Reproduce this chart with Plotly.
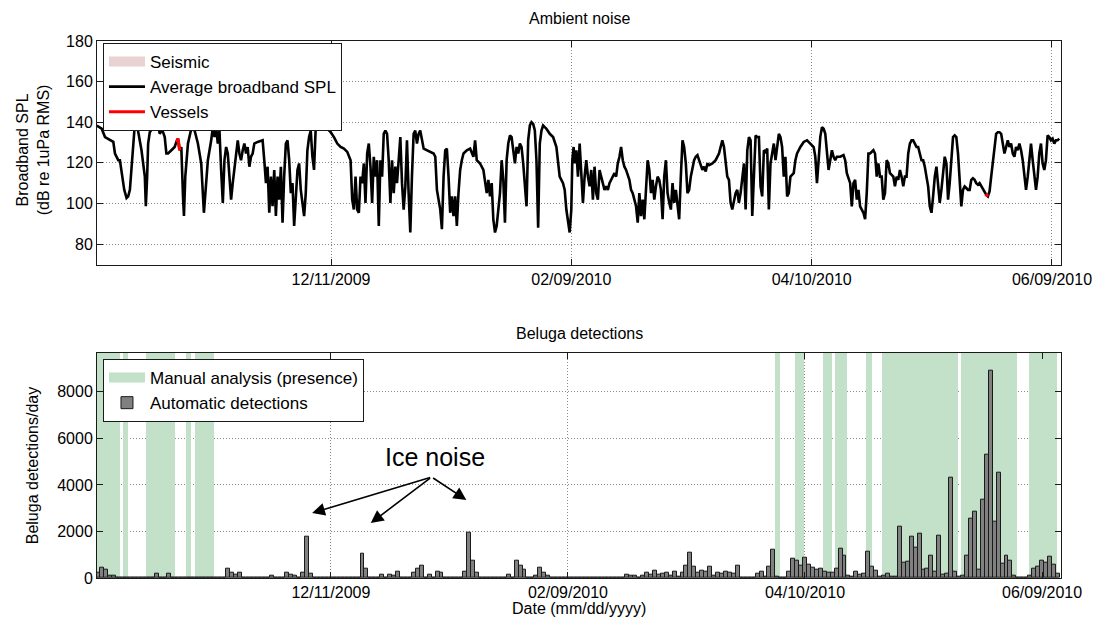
import pandas as pd
import plotly.graph_objects as go

# ---------------------------------------------------------------- data
START = pd.Timestamp("2009-10-13")

# Average broadband SPL: (days since START, dB re 1uPa RMS)
spl_readings = [
    (0.49, 138.4), (1.74, 136.8), (2.57, 132.7), (3.81, 131.1), (4.64, 130.3), (5.05, 124.6),
    (5.88, 121.3), (6.29, 121.3), (6.71, 114.9), (7.37, 106.7), (7.95, 102.7), (8.36, 103.5),
    (8.78, 106.7), (9.19, 116.5), (9.61, 129.5), (10.02, 139.2), (10.44, 140.0), (10.85, 135.9),
    (11.68, 126.2), (12.51, 113.2), (12.76, 98.6), (13.09, 113.2), (13.34, 129.5), (13.75, 135.1),
    (14.58, 137.6), (15.41, 139.2), (15.82, 138.4), (16.24, 134.3), (16.65, 135.9), (17.06, 135.1),
    (17.48, 132.7), (17.89, 124.6), (18.31, 124.6), (19.14, 126.2), (19.96, 127.8), (20.38, 130.3),
    (20.79, 131.9), (21.21, 126.2), (21.62, 127.8), (22.04, 103.5), (22.28, 93.8), (22.61, 113.2),
    (23.28, 129.5), (24.11, 136.8), (24.94, 135.9), (25.76, 129.5), (26.59, 119.7), (27.26, 95.4),
    (27.84, 108.4), (28.25, 121.3), (29.08, 131.1), (29.49, 137.6), (29.91, 132.7), (30.32, 137.6),
    (30.73, 129.5), (31.15, 135.9), (31.56, 116.5), (31.98, 100.3), (32.39, 121.3), (32.81, 127.8),
    (33.22, 124.6), (33.63, 113.2), (34.05, 101.9), (34.46, 110.0), (34.88, 116.5), (35.29, 124.6),
    (35.71, 131.1), (36.12, 124.6), (36.53, 121.3), (36.95, 126.2), (37.36, 129.5), (37.78, 124.6),
    (38.19, 127.8), (38.61, 118.1), (39.02, 123.0), (39.43, 124.6), (39.85, 129.5), (40.68, 130.3),
    (41.50, 131.1), (41.92, 131.1), (42.33, 121.3), (42.75, 110.0), (43.16, 118.1), (43.58, 95.4),
    (43.99, 113.2), (44.40, 98.6), (44.82, 116.5), (45.23, 93.8), (45.65, 113.2), (46.06, 101.9),
    (46.48, 118.1), (46.89, 90.5), (47.30, 113.2), (47.72, 129.5), (48.13, 131.1), (48.55, 121.3),
    (48.96, 105.1), (49.38, 110.0), (49.79, 88.9), (50.20, 105.1), (50.62, 116.5), (51.03, 119.7),
    (51.45, 106.7), (51.86, 100.3), (52.28, 93.8), (52.69, 105.1), (53.10, 126.2), (53.52, 132.7),
    (53.93, 135.9), (54.35, 123.0), (54.76, 116.5), (55.18, 137.6), (55.59, 139.2), (56.00, 137.6),
    (56.42, 136.8), (57.25, 138.4), (58.07, 136.8), (58.90, 135.1), (59.73, 132.7), (60.56, 129.5),
    (61.39, 127.8), (62.22, 127.0), (63.05, 125.4), (63.88, 121.3), (64.29, 101.9), (64.70, 97.0),
    (65.12, 113.2), (65.53, 97.0), (65.95, 95.4), (66.36, 113.2), (66.77, 110.0), (67.19, 119.7),
    (67.60, 100.3), (68.02, 124.6), (68.43, 129.5), (68.85, 118.1), (69.26, 100.3), (69.67, 123.0),
    (70.09, 113.2), (70.50, 121.3), (70.92, 88.9), (71.33, 121.3), (71.75, 113.2), (72.16, 134.3),
    (72.57, 135.9), (72.99, 134.3), (73.40, 121.3), (73.82, 100.3), (74.23, 121.3), (74.65, 105.1),
    (75.06, 118.1), (75.47, 110.0), (75.89, 121.3), (76.30, 132.7), (76.72, 110.0), (77.13, 97.0),
    (77.55, 108.4), (77.96, 131.1), (78.37, 105.1), (78.79, 85.7), (79.20, 113.2), (79.62, 134.3),
    (80.03, 135.9), (80.45, 129.5), (80.86, 134.3), (81.27, 135.9),
    (82.13, 127.0), (82.95, 126.2), (83.78, 125.4), (84.61, 124.6), (85.03, 123.0), (85.44, 106.7),
    (85.85, 101.9), (86.27, 97.0), (86.68, 87.3), (87.10, 113.2), (87.51, 126.2), (87.92, 127.0),
    (88.34, 113.2), (88.75, 95.4), (89.17, 103.5), (89.58, 93.8), (90.00, 103.5), (90.41, 88.9),
    (90.82, 105.1), (91.24, 116.5), (91.65, 121.3), (92.07, 124.6), (92.90, 126.2), (93.72, 127.0),
    (94.55, 123.0), (94.97, 131.1), (95.38, 121.3), (96.21, 119.7), (97.04, 116.5), (97.45, 110.0),
    (97.87, 105.1), (98.28, 111.6), (98.70, 103.5), (99.11, 110.0), (99.52, 92.2), (99.94, 85.7),
    (100.35, 88.9), (100.77, 97.0), (101.18, 105.1), (101.60, 121.3), (102.01, 111.6), (102.42, 90.5),
    (102.84, 121.3), (103.25, 129.5), (103.67, 133.5), (104.08, 132.7), (104.50, 124.6), (104.91, 119.7),
    (105.32, 127.8), (105.74, 124.6), (106.15, 129.5), (106.57, 127.8), (106.98, 119.7), (107.40, 108.4),
    (107.81, 98.6), (108.22, 131.1), (108.64, 138.4), (109.05, 140.0), (109.47, 139.2), (109.88, 135.9),
    (110.29, 121.3), (110.71, 88.1), (110.96, 113.2), (111.12, 129.5), (111.54, 135.9), (111.95, 138.4),
    (112.37, 137.6), (112.78, 136.8), (113.61, 134.3), (114.44, 132.7), (115.27, 127.8), (115.68, 121.3),
    (116.09, 113.2), (116.92, 110.0), (117.34, 106.7), (117.75, 97.0), (118.17, 90.5), (118.58, 85.7),
    (118.99, 97.0), (119.24, 121.3), (119.57, 127.8), (119.82, 119.7), (120.24, 126.2), (120.65, 113.2),
    (121.07, 129.5), (121.48, 113.2), (121.89, 100.3), (122.31, 113.2), (122.72, 121.3), (123.14, 113.2),
    (123.55, 108.4), (123.97, 116.5), (124.38, 101.9), (124.79, 118.1), (125.21, 105.1), (125.62, 101.9),
    (126.04, 116.5), (126.45, 113.2), (126.86, 110.0), (127.28, 106.7), (127.69, 108.4), (128.11, 106.7),
    (128.52, 110.0), (129.35, 113.2), (129.77, 114.9), (130.18, 113.2), (130.59, 119.7), (131.01, 123.0),
    (131.42, 127.8), (131.84, 121.3), (132.25, 118.1), (132.66, 116.5), (133.49, 111.6), (133.91, 106.7),
    (134.32, 105.1), (134.74, 101.9), (135.15, 98.6), (135.57, 90.5), (135.98, 105.1), (136.39, 93.8),
    (136.81, 101.9), (137.22, 92.2), (137.64, 106.7), (138.05, 121.3), (138.46, 116.5), (138.88, 105.1),
    (139.29, 111.6), (139.71, 101.9), (140.12, 108.4), (140.54, 113.2), (140.95, 111.6), (141.36, 106.7),
    (141.78, 92.2), (142.19, 113.2), (142.61, 121.3), (143.02, 105.1), (143.44, 100.3), (143.85, 97.0),
    (144.26, 110.0), (144.68, 100.3), (145.09, 106.7), (145.51, 100.3), (145.92, 92.2), (146.33, 113.2),
    (146.75, 131.1), (147.16, 127.8), (147.58, 119.7), (147.99, 105.1), (148.41, 106.7), (148.82, 113.2),
    (149.23, 116.5), (149.65, 121.3), (150.06, 123.0), (150.48, 123.8), (150.89, 121.3), (151.72, 116.5),
    (152.14, 118.1), (152.55, 115.7), (152.96, 119.7), (153.38, 118.9), (154.21, 119.7), (155.03, 121.3),
    (155.86, 124.6), (156.69, 131.1), (157.11, 127.8), (157.52, 121.3), (157.93, 113.2), (158.35, 111.6),
    (158.76, 100.3), (159.18, 97.0), (159.59, 101.9), (160.01, 105.1), (160.42, 106.7), (160.83, 100.3),
    (161.25, 105.1),
    (162.10, 119.7), (162.51, 97.0), (162.93, 126.2), (163.34, 132.7), (163.75, 131.1), (164.17, 93.8),
    (164.58, 113.2), (165.00, 133.5), (165.41, 132.7), (165.83, 132.7), (166.24, 108.4), (166.65, 103.5),
    (167.07, 126.2), (167.48, 125.4), (167.90, 127.0), (168.31, 97.0), (168.72, 119.7), (169.14, 124.6),
    (169.55, 129.5), (169.97, 121.3), (170.38, 127.8), (170.80, 134.3), (171.21, 132.7), (171.62, 127.8),
    (172.04, 113.2), (172.45, 123.0), (172.87, 103.5), (173.28, 105.1), (173.70, 113.2), (174.52, 114.9),
    (174.94, 121.3), (175.35, 124.6), (176.18, 127.8), (177.01, 130.3), (177.84, 131.1), (178.67, 129.5),
    (179.50, 127.8), (179.91, 123.0), (180.32, 110.0), (180.74, 121.3), (181.15, 132.7), (181.57, 137.6),
    (181.98, 136.8), (182.40, 134.3), (182.81, 126.2), (183.22, 116.5), (183.64, 121.3), (184.05, 126.2),
    (184.47, 123.0), (184.88, 121.3), (185.29, 123.0), (186.12, 123.0), (186.95, 123.8), (187.37, 121.3),
    (187.78, 114.9), (188.61, 110.0), (189.02, 98.6), (189.44, 110.0), (189.85, 111.6), (190.27, 101.9),
    (190.68, 106.7), (191.09, 98.6), (191.51, 97.0), (191.92, 95.4), (192.34, 92.2), (192.75, 105.1),
    (193.17, 124.6), (193.58, 124.6), (194.41, 126.2), (194.82, 124.6), (195.24, 113.2), (195.65, 119.7),
    (196.07, 113.2), (196.48, 113.2), (196.89, 101.9), (197.31, 105.1), (197.72, 121.3), (198.14, 119.7),
    (198.55, 114.9), (199.38, 113.2), (199.79, 108.4), (200.21, 113.2), (200.62, 111.6), (201.04, 116.5),
    (201.45, 113.2), (201.87, 108.4), (202.28, 113.2), (202.69, 113.2), (203.11, 124.6), (203.52, 129.5),
    (203.94, 131.1), (204.35, 131.1), (204.76, 129.5), (205.18, 127.8), (205.59, 127.8), (206.01, 124.6),
    (206.42, 121.3), (206.84, 121.3), (207.25, 118.1), (207.66, 113.2), (208.08, 108.4), (208.49, 98.6),
    (208.91, 95.4), (209.32, 103.5), (209.74, 113.2), (210.15, 118.1), (210.56, 110.0), (210.98, 100.3),
    (211.39, 106.7), (211.81, 116.5), (212.22, 123.0), (212.64, 119.7), (213.05, 101.9), (213.46, 110.0),
    (213.88, 124.6), (214.29, 132.7), (214.71, 133.5), (215.12, 132.7), (215.54, 124.6), (215.95, 108.4),
    (216.36, 98.6), (216.78, 106.7), (217.19, 108.4), (217.61, 107.6), (218.02, 106.7), (218.44, 106.7),
    (218.85, 111.6), (219.26, 112.4), (219.68, 111.6), (220.09, 110.0), (220.51, 109.2), (220.92, 110.0),
    (221.34, 108.4), (221.75, 106.7), (222.16, 105.1), (222.58, 104.3), (222.99, 103.5), (223.41, 105.9),
    (223.82, 113.2), (224.23, 121.3), (224.65, 129.5), (225.06, 134.3), (225.48, 135.1), (225.89, 135.1),
    (226.31, 134.3), (226.72, 129.5), (227.13, 124.6), (227.55, 127.8), (227.96, 131.1), (228.38, 127.8),
    (228.79, 129.5), (229.21, 124.6), (229.62, 123.0), (230.03, 127.8), (230.45, 126.2), (230.86, 129.5),
    (231.28, 126.2), (231.69, 121.3), (232.11, 113.2), (232.52, 106.7), (232.94, 113.2), (233.35, 123.0),
    (233.76, 129.5), (234.18, 121.3), (234.59, 113.2), (235.01, 106.7), (235.42, 113.2), (235.83, 124.6),
    (236.25, 129.5), (236.66, 119.7), (237.08, 116.5), (237.49, 121.3), (237.91, 133.5), (238.32, 132.7),
    (238.74, 131.1), (239.15, 131.9), (239.57, 129.5), (239.98, 131.1), (240.40, 131.1), (240.81, 131.9),
]

# Vessel passages picked out of the SPL record (days since START, dB)
vessel_days = [20.38, 20.79, 21.21, None, 222.35, 222.75, 223.10]
vessel_db = [130.3, 131.9, 126.2, None, 104.5, 103.8, 103.6]

# Daily automatic beluga detections, one value per day from START
detections = [
    250, 430, 360, 115, 100, 0, 0, 0, 0, 0, 0, 0, 20, 30, 30, 200, 0, 30, 180, 0,
    0, 0, 0, 0, 0, 30, 0, 0, 0, 0, 0, 0, 0, 420, 210, 140, 240, 20, 0, 0,
    0, 30, 0, 0, 110, 0, 0, 20, 240, 150, 110, 20, 240, 1780, 180, 0, 0, 30, 30, 30,
    20, 0, 0, 0, 0, 0, 0, 1050, 420, 20, 0, 0, 140, 0, 140, 110, 270, 0, 0, 20,
    210, 390, 520, 30, 125, 20, 270, 225, 20, 30, 30, 30, 20, 270, 1930, 740, 225, 20, 10, 10,
    10, 20, 20, 30, 140, 30, 740, 530, 350, 30, 20, 110, 460, 225, 85, 20, 10, 10, 10, 0,
    0, 0, 0, 0, 10, 20, 30, 0, 0, 0, 0, 10, 10, 10, 125, 100, 100, 20, 100, 210,
    140, 320, 140, 170, 210, 100, 270, 70, 250, 530, 1080, 490, 210, 295, 270, 490, 100, 225, 180, 270,
    225, 180, 530, 0, 0, 0, 0, 200, 260, 60, 500, 1220, 60, 10, 10, 270, 850, 750, 520, 880,
    560, 460, 345, 390, 270, 215, 245, 420, 1250, 960, 100, 40, 270, 130, 200, 1140, 500, 320, 60, 100,
    170, 60, 60, 2190, 650, 720, 1760, 1320, 1900, 345, 390, 960, 270, 1800, 130, 200, 4300, 270, 60, 100,
    960, 2550, 2860, 345, 3380, 5310, 8910, 2430, 4520, 600, 960, 750, 100, 20, 20, 20, 100, 390, 500, 750,
    680, 920, 575, 200,
]

# Periods of beluga presence from manual analysis
presence_start = [
    "2009-10-12 18:00", "2009-10-19 07:00", "2009-10-25 07:00", "2009-11-04 10:00",
    "2009-11-06 12:00", "2010-04-02 12:00", "2010-04-07 10:00", "2010-04-14 14:00",
    "2010-04-17 12:00", "2010-04-25 12:00", "2010-04-29 14:00", "2010-05-19 14:00",
    "2010-06-05 14:00",
]
presence_end = [
    "2009-10-18 14:00", "2009-10-20 17:00", "2009-11-01 12:00", "2009-11-05 17:00",
    "2009-11-11 12:00", "2010-04-03 19:00", "2010-04-09 17:00", "2010-04-16 19:00",
    "2010-04-20 14:00", "2010-04-26 22:00", "2010-05-18 19:00", "2010-06-02 17:00",
    "2010-06-12 19:00",
]

tick_dates = ["2009-12-11", "2010-02-09", "2010-04-10", "2010-06-09"]
tick_labels = ["12/11/2009", "02/09/2010", "04/10/2010", "06/09/2010"]

# Ice-noise annotation: text position, arrow tail and arrow tips
ice_label = ("2010-01-06 06:00", 5200)
ice_tail = ("2010-01-05 12:00", 4340)
ice_tips = [("2009-12-06 06:00", 2790), ("2009-12-21 02:00", 2360), ("2010-01-14 07:00", 3350)]

# axis extents
SPL_RANGE = [69.7, 180]
DET_TOP = 9680
TOP_XRANGE = ["2009-10-13 13:40", "2010-06-11 06:00"]
BOT_XRANGE = ["2009-10-12 19:12", "2010-06-13 19:12"]

# ---------------------------------------------------------------- helpers
def to_time(days):
    return [None if d is None else START + pd.Timedelta(days=d) for d in days]


FONT = "Arial, Liberation Sans, Helvetica, sans-serif"
FS = 16
INK = "#1a1a1a"
GREEN = "#c3e0c8"
PINK = "#e8d2d2"

spl_days = [d for d, _ in spl_readings]
spl_vals = [v for _, v in spl_readings]

fig = go.Figure()

# ---- top panel: ambient noise
fig.add_trace(go.Scatter(
    x=[None], y=[None], mode="lines", line=dict(color=PINK, width=14),
    name="Seismic", legend="legend", xaxis="x", yaxis="y",
))
fig.add_trace(go.Scatter(
    x=to_time(spl_days), y=spl_vals, mode="lines",
    line=dict(color="black", width=2.6), name="Average broadband SPL",
    legend="legend", xaxis="x", yaxis="y",
))
fig.add_trace(go.Scatter(
    x=to_time(vessel_days), y=vessel_db, mode="lines",
    line=dict(color="#ff0000", width=3.2), name="Vessels",
    legend="legend", xaxis="x", yaxis="y",
))

# ---- bottom panel: beluga detections
p_start = pd.to_datetime(presence_start)
p_end = pd.to_datetime(presence_end)
p_mid = p_start + (p_end - p_start) / 2
p_width = [(e - s).total_seconds() * 1000 for s, e in zip(p_start, p_end)]
fig.add_trace(go.Bar(
    x=p_mid, y=[DET_TOP] * len(p_mid), width=p_width,
    marker=dict(color=GREEN, line=dict(width=0)),
    name="Manual analysis (presence)", showlegend=False,
    legendgroup="presence", xaxis="x2", yaxis="y2", hoverinfo="skip",
))
# legend swatch for the presence periods
fig.add_trace(go.Scatter(
    x=[None], y=[None], mode="lines", line=dict(color=GREEN, width=14),
    name="Manual analysis (presence)", legend="legend2", legendgroup="presence",
    xaxis="x2", yaxis="y2",
))
fig.add_trace(go.Bar(
    x=pd.date_range(START, periods=len(detections), freq="D"), y=detections,
    width=86400000, marker=dict(color="#808080", line=dict(color=INK, width=1)),
    name="Automatic detections", legend="legend2", xaxis="x2", yaxis="y2",
))

axis_style = dict(
    showline=True, linecolor=INK, linewidth=1, mirror="ticks",
    ticks="inside", ticklen=6, tickcolor=INK, tickwidth=1,
    showgrid=True, gridcolor="#8a8a8a", griddash="1px,2px", gridwidth=1,
    zeroline=False, tickfont=dict(family=FONT, size=FS, color="black"),
)

TOP_DOMAIN = [0.5829, 1.0]
BOT_DOMAIN = [0.0, 0.4196]

fig.update_layout(
    width=1104, height=624,
    margin=dict(l=97, r=39, t=41, b=46),
    paper_bgcolor="white", plot_bgcolor="white",
    font=dict(family=FONT, size=FS, color="black"),
    barmode="overlay", bargap=0, showlegend=True,
    xaxis=dict(domain=[0, 1], anchor="y", range=TOP_XRANGE, type="date",
               tickvals=tick_dates, ticktext=tick_labels, **axis_style),
    yaxis=dict(domain=TOP_DOMAIN, anchor="x", range=SPL_RANGE,
               tickmode="linear", tick0=0, dtick=20, **axis_style),
    xaxis2=dict(domain=[0, 1], anchor="y2", range=BOT_XRANGE, type="date",
                tickvals=tick_dates, ticktext=tick_labels, **axis_style),
    yaxis2=dict(domain=BOT_DOMAIN, anchor="x2", range=[0, DET_TOP],
                tickmode="linear", tick0=0, dtick=2000, **axis_style),
    legend=dict(x=0.0062, y=0.9963, xanchor="left", yanchor="top",
                bgcolor="white", bordercolor=INK, borderwidth=1,
                font=dict(family=FONT, size=17), tracegroupgap=0, itemwidth=36),
    legend2=dict(x=0.0062, y=0.4078, xanchor="left", yanchor="top",
                 bgcolor="white", bordercolor=INK, borderwidth=1,
                 font=dict(family=FONT, size=17), tracegroupgap=0, itemwidth=36),
)

annotations = [
    dict(text="Ambient noise", xref="paper", yref="paper", x=0.5, y=1.041,
         xanchor="center", yanchor="middle", showarrow=False, font=dict(size=FS)),
    dict(text="Beluga detections", xref="paper", yref="paper", x=0.5, y=0.4562,
         xanchor="center", yanchor="middle", showarrow=False, font=dict(size=FS)),
    dict(text="Broadband SPL<br>(dB re 1uPa RMS)", xref="paper", yref="paper",
         x=-0.0661, y=0.797, xanchor="center", yanchor="middle", textangle=-90,
         showarrow=False, font=dict(size=FS)),
    dict(text="Beluga detections/day", xref="paper", yref="paper",
         x=-0.0661, y=0.2086, xanchor="center", yanchor="middle", textangle=-90,
         showarrow=False, font=dict(size=FS)),
    dict(text="Date (mm/dd/yyyy)", xref="paper", yref="paper", x=0.5, y=-0.057,
         xanchor="center", yanchor="middle", showarrow=False, font=dict(size=FS)),
    dict(text="Ice noise", xref="x2", yref="y2", x=ice_label[0], y=ice_label[1],
         xanchor="center", yanchor="middle", showarrow=False, font=dict(size=25)),
]
for tx, ty in ice_tips:
    annotations.append(dict(
        text="", xref="x2", yref="y2", x=tx, y=ty,
        axref="x2", ayref="y2", ax=ice_tail[0], ay=ice_tail[1],
        showarrow=True, arrowhead=2, arrowsize=1.6, arrowwidth=1.6, arrowcolor="black",
    ))
fig.update_layout(annotations=annotations)

fig.write_html("out.html")
